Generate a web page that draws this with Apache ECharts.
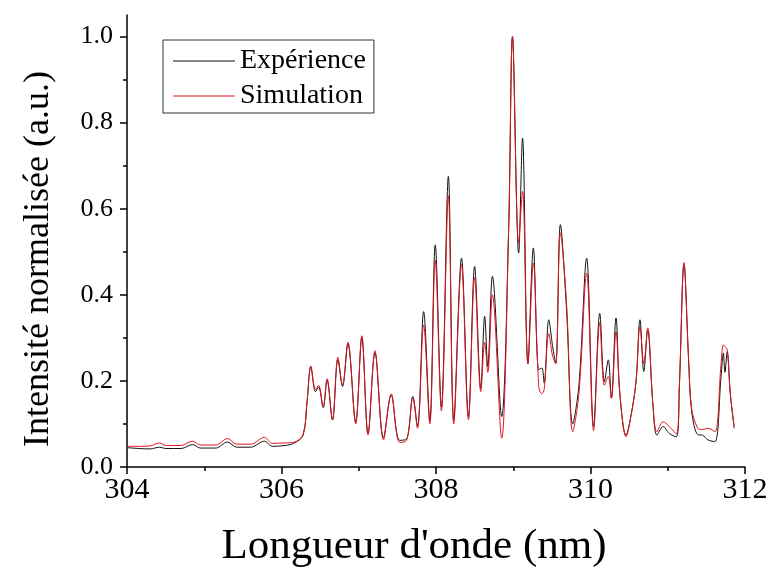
<!DOCTYPE html>
<html>
<head>
<meta charset="utf-8">
<script src="https://cdn.jsdelivr.net/npm/echarts@6/dist/echarts.min.js"></script>
<style>
  html, body { margin: 0; padding: 0; background: #fff; }
  #spectre { width: 768px; height: 568px; }
</style>
</head>
<body>
<div id="spectre"></div>
<script>
// longueurs d'onde (nm)
var lambda = [
  304.00, 304.15, 304.30, 304.42, 304.50, 304.70, 304.85, 304.95, 305.15, 305.30,
  305.42, 305.60, 305.78, 305.88, 306.05, 306.17, 306.28, 306.33, 306.38, 306.44,
  306.48, 306.54, 306.59, 306.66, 306.73, 306.79, 306.86, 306.96, 307.04, 307.12,
  307.21, 307.32, 307.42, 307.53, 307.62, 307.70, 307.76, 307.84, 307.92, 307.99,
  308.07, 308.16, 308.23, 308.33, 308.42, 308.50, 308.58, 308.63, 308.67, 308.73,
  308.85, 308.94, 308.99, 309.07, 309.12, 309.19, 309.26, 309.33, 309.37, 309.40,
  309.46, 309.51, 309.55, 309.61, 309.69, 309.77, 309.85, 309.95, 310.04, 310.12,
  310.18, 310.23, 310.27, 310.33, 310.38, 310.46, 310.53, 310.59, 310.64, 310.69,
  310.74, 310.81, 310.86, 310.94, 311.02, 311.11, 311.15, 311.21, 311.27, 311.31,
  311.39, 311.45, 311.52, 311.61, 311.69, 311.72, 311.74, 311.77, 311.81, 311.86
];
var experience = [
  0.045, 0.043, 0.042, 0.046, 0.043, 0.043, 0.052, 0.044, 0.044, 0.058,
  0.046, 0.046, 0.060, 0.048, 0.050, 0.056, 0.074, 0.150, 0.232, 0.175,
  0.186, 0.138, 0.202, 0.109, 0.249, 0.187, 0.286, 0.105, 0.300, 0.077,
  0.266, 0.068, 0.167, 0.062, 0.065, 0.164, 0.095, 0.361, 0.108, 0.516,
  0.140, 0.675, 0.109, 0.485, 0.117, 0.466, 0.183, 0.350, 0.233, 0.443,
  0.117, 0.550, 1.000, 0.497, 0.764, 0.240, 0.509, 0.226, 0.230, 0.195,
  0.342, 0.280, 0.241, 0.563, 0.365, 0.100, 0.190, 0.485, 0.094, 0.357,
  0.198, 0.249, 0.160, 0.346, 0.170, 0.074, 0.125, 0.200, 0.342, 0.222,
  0.318, 0.140, 0.074, 0.094, 0.078, 0.070, 0.187, 0.470, 0.249, 0.129,
  0.075, 0.074, 0.063, 0.059, 0.210, 0.265, 0.220, 0.268, 0.170, 0.090
];
var simulation = [
  0.048, 0.048, 0.049, 0.056, 0.050, 0.050, 0.060, 0.051, 0.051, 0.066,
  0.053, 0.053, 0.069, 0.055, 0.056, 0.058, 0.076, 0.150, 0.235, 0.180,
  0.190, 0.140, 0.205, 0.110, 0.255, 0.190, 0.290, 0.100, 0.305, 0.075,
  0.270, 0.063, 0.170, 0.057, 0.062, 0.160, 0.090, 0.330, 0.100, 0.480,
  0.130, 0.630, 0.100, 0.470, 0.110, 0.440, 0.175, 0.290, 0.220, 0.400,
  0.067, 0.550, 1.000, 0.520, 0.640, 0.240, 0.474, 0.187, 0.170, 0.180,
  0.310, 0.257, 0.240, 0.544, 0.380, 0.082, 0.170, 0.450, 0.085, 0.335,
  0.190, 0.210, 0.160, 0.315, 0.170, 0.070, 0.125, 0.200, 0.326, 0.240,
  0.323, 0.140, 0.082, 0.105, 0.094, 0.077, 0.187, 0.475, 0.250, 0.135,
  0.090, 0.087, 0.090, 0.082, 0.240, 0.284, 0.280, 0.272, 0.170, 0.095
];
var yTicks = [0, 0.2, 0.4, 0.6, 0.8, 1.0];
var yMinorTicks = [0.1, 0.3, 0.5, 0.7, 0.9];

function paires(ys) {
  return lambda.map(function (x, i) { return [x, ys[i]]; });
}

var chartDom = document.getElementById('spectre');
var myChart = echarts.init(chartDom);
var police = 'Liberation Serif';

var option = {
  animation: false,
  textStyle: { fontFamily: police, color: '#000' },
  grid: { left: 127, right: 23, top: 15, bottom: 101, outerBoundsMode: 'none' },
  legend: {
    left: 163,
    top: 40,
    orient: 'vertical',
    borderColor: '#333',
    borderWidth: 1,
    padding: [7, 8, 3, 10],
    icon: 'rect',
    itemWidth: 62,
    itemHeight: 1,
    itemGap: 7,
    textStyle: { fontFamily: police, fontSize: 28, color: '#000', lineHeight: 28 },
    data: ['Expérience', 'Simulation']
  },
  xAxis: {
    type: 'value',
    min: 304,
    max: 312,
    interval: 2,
    name: "Longueur d'onde (nm)",
    nameLocation: 'middle',
    nameGap: 58,
    nameTextStyle: { fontFamily: police, fontSize: 43, color: '#000', padding: [0, 44, 0, 0] },
    axisLine: { lineStyle: { color: '#000', width: 1.5 } },
    axisTick: { length: 7, lineStyle: { color: '#000', width: 1.5 } },
    minorTick: { show: true, splitNumber: 2, length: 4, lineStyle: { color: '#000', width: 1.5 } },
    axisLabel: { fontFamily: police, fontSize: 30, color: '#000', margin: 8 },
    splitLine: { show: false }
  },
  yAxis: [
    {
      type: 'value',
      min: 0,
      max: 1.05,
      name: 'Intensité normalisée (a.u.)',
      nameLocation: 'middle',
      nameGap: 70,
      nameTextStyle: { fontFamily: police, fontSize: 36, color: '#000', padding: [0, 36, 0, 0] },
      axisLine: { show: true, lineStyle: { color: '#000', width: 1.5 } },
      axisTick: { show: true, length: 7, customValues: yTicks, lineStyle: { color: '#000', width: 1.5 } },
      axisLabel: {
        fontFamily: police, fontSize: 26, color: '#000', margin: 14,
        customValues: yTicks,
        formatter: function (v) { return v.toFixed(1); }
      },
      splitLine: { show: false }
    },
    {
      type: 'value',
      min: 0,
      max: 1.05,
      position: 'left',
      axisLine: { show: false },
      axisTick: { show: true, length: 4, customValues: yMinorTicks, lineStyle: { color: '#000', width: 1.5 } },
      axisLabel: { show: false },
      splitLine: { show: false }
    }
  ],
  series: [
    {
      name: 'Expérience',
      type: 'line',
      data: paires(experience),
      symbol: 'none',
      smooth: 0.35,
      lineStyle: { color: '#111', width: 1 },
      itemStyle: { color: '#111' },
      z: 2
    },
    {
      name: 'Simulation',
      type: 'line',
      data: paires(simulation),
      symbol: 'none',
      smooth: 0.35,
      lineStyle: { color: '#e0141e', width: 1 },
      itemStyle: { color: '#e0141e' },
      z: 3
    }
  ]
};

option && myChart.setOption(option);
</script>
</body>
</html>
